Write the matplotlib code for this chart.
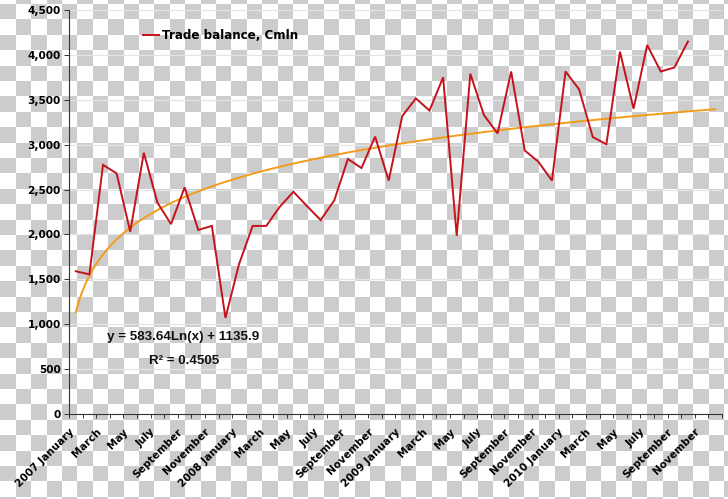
import numpy as np
import matplotlib
matplotlib.use("Agg")
import matplotlib.pyplot as plt
from matplotlib.ticker import FuncFormatter, FixedLocator
from matplotlib.lines import Line2D

# ---------------- data ----------------
month_labels = [
    "2007 January", "", "March", "", "May", "", "July", "", "September", "", "November", "",
    "2008 January", "", "March", "", "May", "", "July", "", "September", "", "November", "",
    "2009 January", "", "March", "", "May", "", "July", "", "September", "", "November", "",
    "2010 January", "", "March", "", "May", "", "July", "", "September", "", "November", "",
]
trade_balance = [
    1590, 1555, 2775, 2680, 2030, 2910, 2355, 2115, 2525, 2050, 2095, 1070,
    1670, 2095, 2095, 2310, 2475, 2315, 2160, 2380, 2840, 2740, 3090, 2600,
    3320, 3515, 3380, 3750, 1985, 3790, 3330, 3125, 3815, 2935, 2810, 2600,
    3815, 3615, 3085, 3005, 4035, 3400, 4110, 3815, 3860, 4150,
]
trend_a = 583.64
trend_b = 1135.9
r_squared = 0.4505
y_ticks = [0, 500, 1000, 1500, 2000, 2500, 3000, 3500, 4000, 4500]
series_name = "Trade balance, Cmln"

# ---------------- figure ----------------
W, H = 728, 499
fig = plt.figure(figsize=(W / 100, H / 100), dpi=100)

# transparency-style checkerboard background
sq = 15.4
yy, xx = np.mgrid[0:H, 0:W]
cell = (np.floor(xx / sq) + np.floor((yy - 3.5) / sq)).astype(int) % 2
bg = np.where(cell == 0, 204, 255).astype(np.uint8)
bg_rgb = np.dstack([bg, bg, bg])
fig.figimage(bg_rgb, xo=0, yo=0, origin="upper", zorder=-10, resize=False)

ax = fig.add_axes([69 / W, 1 - 414 / H, (722 - 69) / W, (414 - 10) / H])
ax.set_facecolor("none")

n_cat = len(month_labels)
x_data = np.arange(len(trade_balance))
ax.plot(x_data, trade_balance, color="#C5121C", lw=1.4, zorder=3, solid_joinstyle="miter")

x_fit = np.linspace(1, n_cat, 400)
y_fit = trend_a * np.log(x_fit) + trend_b
ax.plot(x_fit - 1, y_fit, color="#F39C1A", lw=1.4, zorder=2)

ax.set_xlim(-0.5, n_cat - 0.5)
ax.set_ylim(y_ticks[0], y_ticks[-1])

# grid
ax.set_yticks(y_ticks)
ax.yaxis.grid(True, color="#e4e4e4", lw=0.9)
ax.set_axisbelow(True)
ax.yaxis.set_major_formatter(FuncFormatter(lambda v, p: f"{int(v):,}"))
ax.tick_params(axis="y", direction="out", length=3.5, width=0.7, color="#333333",
               labelsize=7.6, pad=2.5)
for lab in ax.get_yticklabels():
    lab.set_fontweight("bold")

# x ticks: labels at category centres, tick marks at boundaries
label_pos = [i for i, s in enumerate(month_labels) if s]
ax.xaxis.set_major_locator(FixedLocator(label_pos))
ax.set_xticklabels([month_labels[i] for i in label_pos], rotation=45, ha="right",
                   va="bottom", rotation_mode="anchor", fontsize=7.6, fontweight="bold")
ax.xaxis.set_minor_locator(FixedLocator(np.arange(-0.5, n_cat, 1.0)))
ax.tick_params(axis="x", which="major", length=0, pad=14)
ax.tick_params(axis="x", which="minor", direction="out", length=3, width=0.7, color="#333333")

for side in ("top", "right"):
    ax.spines[side].set_visible(False)
for side in ("left", "bottom"):
    ax.spines[side].set_color("#333333")
    ax.spines[side].set_linewidth(0.8)

# legend
handle = Line2D([], [], color="#C5121C", lw=1.4)
fig.legend([handle], [series_name], loc="center left",
           bbox_to_anchor=(143 / W, 1 - 35.5 / H), frameon=False,
           borderpad=0, borderaxespad=0, handlelength=1.3, handletextpad=0.3,
           prop={"weight": "bold", "size": 8.6})

# trendline equation
ax.text(0.1753, 0.191, f"y = {trend_a}Ln(x) + {trend_b}", transform=ax.transAxes,
        ha="center", va="center", fontsize=9.6, fontweight="bold",
        family="Liberation Sans", color="#111111")
ax.text(0.1760, 0.132, f"R\u00b2 = {r_squared}", transform=ax.transAxes,
        ha="center", va="center", fontsize=9.6, fontweight="bold",
        family="Liberation Sans", color="#111111")

fig.savefig("out.png", dpi=100)
